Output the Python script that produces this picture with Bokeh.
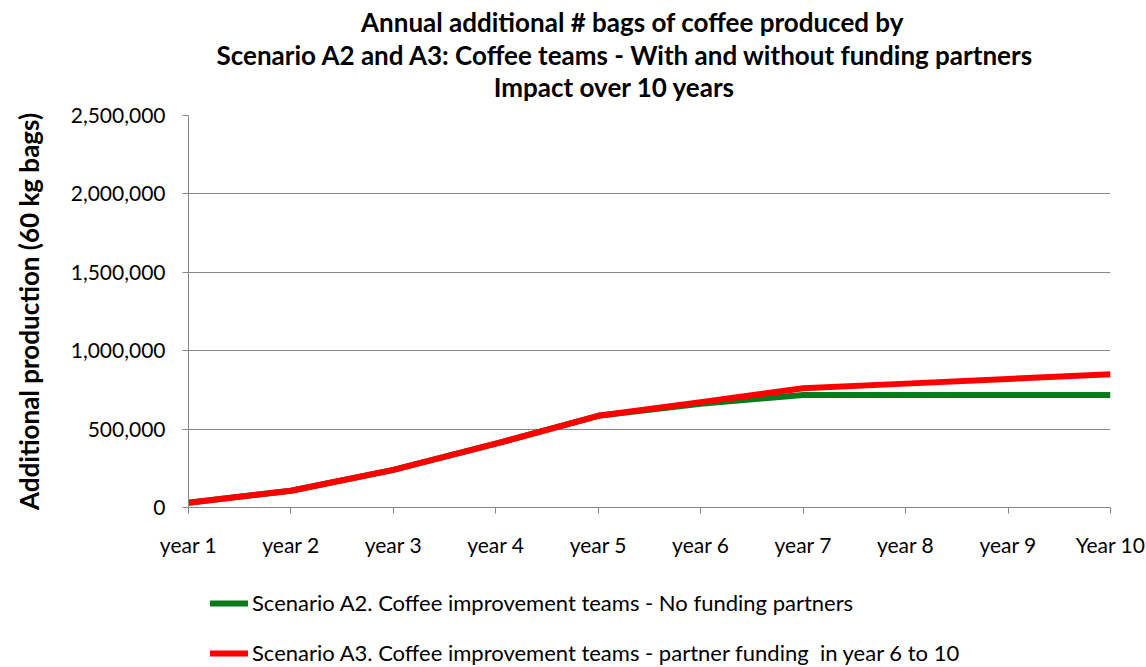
from bokeh.plotting import figure
from bokeh.layouts import column
from bokeh.models import Label, Legend, LegendItem, FixedTicker, NumeralTickFormatter, Range1d
from bokeh.embed import file_html
from bokeh.resources import INLINE

# Years on the horizontal axis and additional 60 kg bags per scenario
years = [1, 2, 3, 4, 5, 6, 7, 8, 9, 10]
year_labels = ["year 1", "year 2", "year 3", "year 4", "year 5",
               "year 6", "year 7", "year 8", "year 9", "Year 10"]
scenario_a2 = [30000, 107000, 240000, 407000, 585000, 661000, 718000, 718000, 718000, 718000]
scenario_a3 = [30000, 107000, 240000, 407000, 585000, 672000, 760000, 790000, 820000, 850000]
y_ticks = [0, 500000, 1000000, 1500000, 2000000, 2500000]

title_lines = [
    "Annual additional # bags of coffee produced by",
    "Scenario A2 and A3: Coffee teams - With and without funding partners",
    "Impact over 10 years",
]
series_names = [
    "Scenario A2. Coffee improvement teams - No funding partners",
    "Scenario A3. Coffee improvement teams - partner funding  in year 6 to 10",
]
colors = ["#0A7A1C", "#FF0000"]

FONT = "Lato"
GREY = "#868686"
W = 1146
FRAME_LEFT = 188  # frames of the stacked figures share this left edge


def blank_panel(height):
    """A figure with no axes, used to hold text around the chart."""
    f = figure(width=W, height=height, min_border=0,
               x_axis_type=None, y_axis_type=None,
               x_range=Range1d(0, 1), y_range=Range1d(0, 1),
               output_backend="svg", toolbar_location=None)
    f.outline_line_color = None
    f.grid.visible = False
    return f


# ---- title block -------------------------------------------------------
TITLE_H = 102
title_fig = blank_panel(TITLE_H)
for txt, cx, cy in zip(title_lines, [632, 625, 614], [21, 54, 86]):
    title_fig.add_layout(Label(
        x=cx - FRAME_LEFT, y=TITLE_H - cy, x_units="screen", y_units="screen",
        text=txt, text_font=FONT, text_font_style="bold", text_font_size="26px",
        text_align="center", text_baseline="middle", text_color="black",
    ))

# ---- main chart --------------------------------------------------------
p = figure(
    frame_width=922, frame_height=392,
    min_border_left=FRAME_LEFT, min_border_right=36,
    min_border_top=13, min_border_bottom=56,
    output_backend="svg", toolbar_location=None,
    x_range=Range1d(1, 10), y_range=Range1d(0, 2500000),
)
p.outline_line_color = None

p.xaxis.ticker = FixedTicker(ticks=years)
p.xaxis.major_label_overrides = {y: lab for y, lab in zip(years, year_labels)}
p.yaxis.ticker = FixedTicker(ticks=y_ticks)
p.yaxis.formatter = NumeralTickFormatter(format="0,0")
for ax in (p.xaxis[0], p.yaxis[0]):
    ax.axis_line_color = GREY
    ax.axis_line_width = 1
    ax.major_tick_line_color = GREY
    ax.major_tick_in = 0
    ax.major_tick_out = 6
    ax.minor_tick_line_color = None
    ax.major_label_text_font = FONT
    ax.major_label_text_font_size = "21px"
    ax.major_label_text_color = "black"
p.xaxis.major_label_standoff = 18
p.yaxis.major_label_standoff = 17
p.yaxis.axis_label = "Additional production (60 kg bags)"
p.yaxis.axis_label_text_font = FONT
p.yaxis.axis_label_text_font_style = "bold"
p.yaxis.axis_label_text_font_size = "26px"
p.yaxis.axis_label_text_color = "black"
p.yaxis.axis_label_standoff = 23

p.xgrid.grid_line_color = None
p.ygrid.grid_line_color = GREY
p.ygrid.grid_line_width = 1

r_a2 = p.line(years, scenario_a2, line_color=colors[0], line_width=6, line_join="round")
r_a3 = p.line(years, scenario_a3, line_color=colors[1], line_width=6, line_join="round")

# ---- legend underneath ------------------------------------------------
LEG_H = 104
leg_fig = blank_panel(LEG_H)
nan = float("nan")
k_a2 = leg_fig.line([nan], [nan], line_color=colors[0], line_width=6, line_cap="round")
k_a3 = leg_fig.line([nan], [nan], line_color=colors[1], line_width=6, line_cap="round")
legend = Legend(
    items=[LegendItem(label=series_names[0], renderers=[k_a2]),
           LegendItem(label=series_names[1], renderers=[k_a3])],
    location=(22, 1), orientation="vertical",
    glyph_width=38, glyph_height=22, label_height=22, label_standoff=4,
    spacing=23, padding=0, margin=0,
    label_text_font=FONT, label_text_font_size="22px", label_text_color="black",
    border_line_color=None, background_fill_alpha=0,
)
leg_fig.add_layout(legend, "center")

layout = column(title_fig, p, leg_fig, spacing=0)
open("out.html", "w").write(file_html(layout, INLINE))
